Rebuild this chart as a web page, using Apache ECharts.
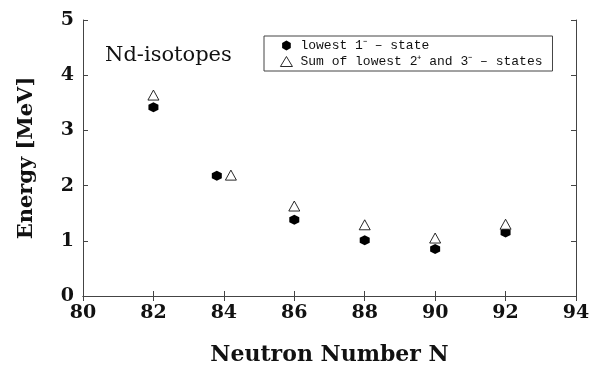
<!DOCTYPE html>
<html>
<head>
  <meta charset="UTF-8">
  <title>Nd-isotopes</title>
  <style>
    html, body { margin: 0; padding: 0; background: #fff; }
    #chart { width: 598px; height: 366px; }
  </style>
  <script src="https://cdn.jsdelivr.net/npm/echarts@6/dist/echarts.min.js"></script>
</head>
<body>
  <div id="chart"></div>
  <script>
    // lowest 1- state
    var nLowest = [82, 83.8, 86, 88, 90, 92];
    var eLowest = [3.42, 2.18, 1.38, 1.01, 0.85, 1.15];
    // sum of lowest 2+ and 3- states
    var nSum = [82, 84.2, 86, 88, 90, 92];
    var eSum = [3.64, 2.19, 1.63, 1.29, 1.05, 1.30];
    var xTicks = [80, 82, 84, 86, 88, 90, 92, 94];
    var yTicks = [0, 1, 2, 3, 4, 5];
    var seriesNames = ['lowest 1⁻ – state', 'Sum of lowest 2⁺ and 3⁻ – states'];

    function pairs(xs, ys) {
      return xs.map(function (x, i) { return [x, ys[i]]; });
    }

    var hexagon = 'path://M0,-10 L8.66,-5 L8.66,5 L0,10 L-8.66,5 L-8.66,-5 Z';
    var frame = '#444';
    var labelFont = { fontFamily: 'DejaVu Serif', fontWeight: 'bold', fontSize: 19, color: '#111' };
    var titleFont = { fontFamily: 'DejaVu Serif', fontWeight: 'bold', fontSize: 21, color: '#111' };

    var myChart = echarts.init(document.getElementById('chart'));
    myChart.setOption({
      animation: false,
      grid: { left: 83, right: 22, top: 20, bottom: 70, outerBoundsMode: 'none', containLabel: false },
      graphic: [{
        type: 'text', left: 105, top: 45,
        style: { text: 'Nd-isotopes', font: '21px "DejaVu Serif"', fill: '#111' }
      }],
      legend: {
        left: 264, top: 36,
        orient: 'vertical',
        itemGap: 3,
        itemWidth: 12, itemHeight: 10,
        padding: [3, 10, 3, 16],
        borderColor: frame, borderWidth: 1,
        textStyle: { fontFamily: 'Liberation Mono', fontSize: 13, color: '#111', lineHeight: 12, padding: [0, 0, 0, 3] },
        data: [
          { name: seriesNames[0], itemStyle: { color: '#000' } },
          { name: seriesNames[1], itemStyle: { color: '#fff', borderColor: '#111', borderWidth: 0.9 } }
        ]
      },
      xAxis: [{
        type: 'value', min: xTicks[0], max: xTicks[xTicks.length - 1], interval: 2,
        name: 'Neutron Number N', nameLocation: 'middle', nameGap: 48,
        nameTextStyle: Object.assign({}, titleFont, { fontSize: 22 }),
        axisLine: { lineStyle: { color: frame } },
        axisTick: { inside: true, length: 5, lineStyle: { color: frame } },
        axisLabel: Object.assign({ margin: 8 }, labelFont),
        splitLine: { show: false }
      }, {
        type: 'value', position: 'top', min: xTicks[0], max: xTicks[xTicks.length - 1], interval: 2,
        axisLine: { show: true, lineStyle: { color: frame } },
        axisTick: { inside: true, length: 5, lineStyle: { color: frame } },
        axisLabel: { show: false },
        splitLine: { show: false }
      }],
      yAxis: [{
        type: 'value', min: yTicks[0], max: yTicks[yTicks.length - 1], interval: 1,
        name: 'Energy [MeV]', nameLocation: 'middle', nameGap: 46,
        nameTextStyle: titleFont,
        axisLine: { show: true, lineStyle: { color: frame } },
        axisTick: { show: true, inside: true, length: 5, lineStyle: { color: frame } },
        axisLabel: Object.assign({ margin: 9 }, labelFont),
        splitLine: { show: false }
      }, {
        type: 'value', position: 'right', min: yTicks[0], max: yTicks[yTicks.length - 1], interval: 1,
        axisLine: { show: true, lineStyle: { color: frame } },
        axisTick: { show: true, inside: true, length: 5, lineStyle: { color: frame } },
        axisLabel: { show: false },
        splitLine: { show: false }
      }],
      series: [{
        name: seriesNames[0],
        type: 'scatter',
        symbol: hexagon, symbolSize: 10,
        itemStyle: { color: '#000', opacity: 1 },
        data: pairs(nLowest, eLowest)
      }, {
        name: seriesNames[1],
        type: 'scatter',
        symbol: 'triangle', symbolSize: [11, 10],
        itemStyle: { color: '#fff', borderColor: '#111', borderWidth: 0.9, opacity: 1 },
        data: pairs(nSum, eSum)
      }]
    });
  </script>
</body>
</html>
